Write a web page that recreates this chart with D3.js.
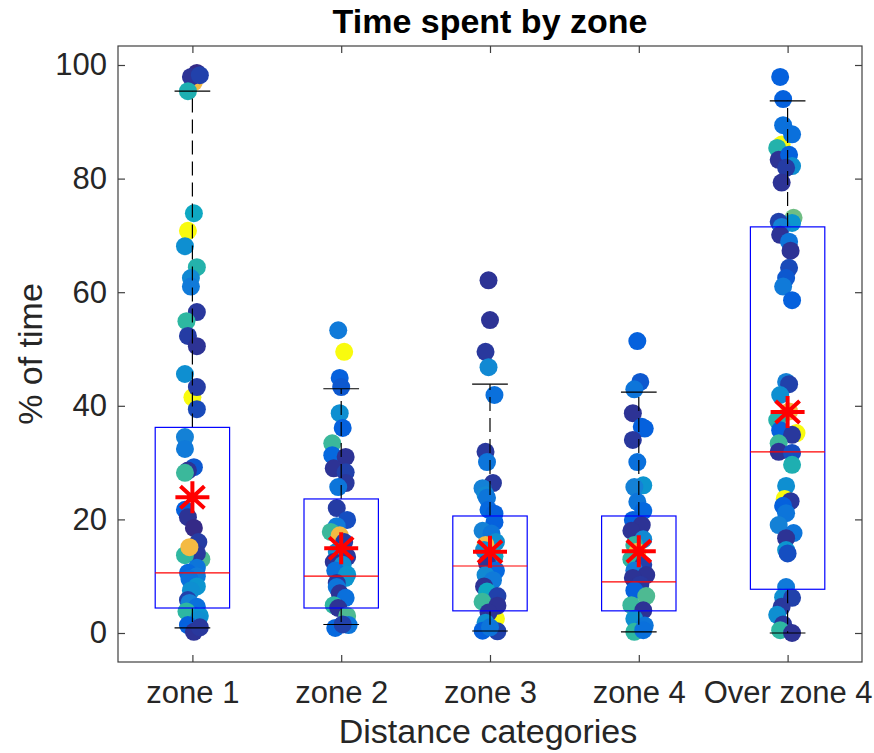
<!DOCTYPE html>
<html>
<head>
<meta charset="utf-8">
<script src="https://cdn.jsdelivr.net/npm/d3@7"></script>
<style>
body { margin: 0; background: #fff; }
text { font-family: "Liberation Sans", Arial, sans-serif; }
</style>
</head>
<body>
<div id="chart"></div>
<script>
// categories and summary stats
var categories = ["zone 1", "zone 2", "zone 3", "zone 4", "Over zone 4"];
var q1 = [4.4, 4.4, 3.9, 3.9, 7.7];
var medians = [10.6, 10.0, 11.8, 9.0, 31.9];
var q3 = [36.2, 23.6, 20.6, 20.6, 71.5];
var whiskLo = [0.9, 1.5, 0.35, 0.2, 0.0];
var whiskHi = [95.4, 43.0, 43.8, 42.4, 93.7];
var means = [23.9, 14.9, 14.3, 14.4, 38.9];
var yTicks = [0, 20, 40, 60, 80, 100];

// individual subjects: [value, x jitter (category units), colour value 0..1]
var zone1 = [[98.6, 0.03, 0.0], [97.0, 0.01, 0.85], [97.9, -0.01, 0.02], [98.2, 0.05, 0.05], [95.4, -0.03, 0.45],
  [73.9, 0.01, 0.4], [70.8, -0.03, 1.0], [68.1, -0.05, 0.3], [64.4, 0.03, 0.47], [62.5, -0.01, 0.28],
  [61.0, -0.01, 0.22], [56.5, 0.03, 0.03], [54.9, -0.04, 0.5], [52.3, -0.03, 0.04], [50.5, 0.03, 0.02],
  [45.6, -0.05, 0.3], [41.5, 0.0, 1.0], [43.3, 0.03, 0.04], [39.4, 0.03, 0.07], [34.5, -0.05, 0.25],
  [32.4, -0.05, 0.22], [29.2, 0.01, 0.1], [28.6, -0.03, 0.02], [28.2, -0.05, 0.52], [21.7, -0.05, 0.12],
  [20.4, -0.03, 0.02], [18.5, 0.01, 0.0], [16.0, 0.04, 0.04], [13.0, 0.06, 0.55], [14.0, 0.03, 0.03],
  [13.7, -0.05, 0.5], [15.1, -0.02, 0.85], [11.5, 0.03, 0.2], [10.6, -0.03, 0.15], [10.0, 0.03, 0.22],
  [9.5, -0.02, 0.18], [8.2, 0.03, 0.32], [7.5, -0.01, 0.3], [5.8, -0.03, 0.05], [5.3, -0.02, 0.25],
  [4.6, 0.03, 0.18], [3.8, -0.04, 0.5], [3.0, 0.05, 0.32], [2.3, 0.04, 0.3], [0.8, 0.01, 0.95],
  [1.4, -0.03, 0.12], [0.2, 0.01, 0.02], [1.0, 0.05, 0.03]];
var zone2 = [[53.3, -0.02, 0.22], [49.5, 0.02, 1.0], [44.9, -0.01, 0.12], [43.3, 0.0, 0.1], [38.7, -0.01, 0.3],
  [36.1, 0.01, 0.12], [33.4, -0.06, 0.52], [31.3, -0.06, 0.15], [31.0, 0.03, 0.02], [29.0, -0.05, 0.02],
  [28.3, 0.03, 0.05], [26.4, 0.03, 0.03], [25.7, -0.02, 0.2], [22.0, -0.03, 0.04], [19.9, 0.04, 0.08],
  [18.8, -0.03, 0.22], [17.8, -0.07, 0.52], [17.2, -0.01, 0.85], [16.0, 0.02, 0.04], [14.3, -0.03, 0.3],
  [13.4, 0.04, 0.03], [12.5, -0.05, 0.02], [12.0, 0.01, 0.3], [11.0, -0.04, 0.18], [10.3, 0.04, 0.32],
  [9.7, 0.03, 0.32], [8.8, -0.03, 0.03], [8.1, -0.03, 0.2], [7.0, -0.01, 0.02], [6.2, 0.03, 0.18],
  [4.9, -0.05, 0.5], [4.4, -0.02, 0.02], [3.0, 0.04, 0.55], [1.4, 0.05, 0.2], [0.9, -0.04, 0.15],
  [1.5, 0.01, 0.05]];
var zone3 = [[62.1, -0.01, 0.02], [55.1, 0.0, 0.02], [49.5, -0.03, 0.03], [46.8, -0.01, 0.28], [41.9, 0.03, 0.18],
  [31.9, -0.03, 0.03], [30.1, -0.02, 0.2], [26.4, 0.02, 0.03], [25.5, -0.05, 0.25], [24.3, -0.03, 0.28],
  [23.8, -0.02, 0.2], [21.7, -0.01, 0.15], [21.0, 0.03, 0.12], [19.5, 0.03, 0.12], [18.0, -0.05, 0.25],
  [17.5, 0.01, 0.2], [16.0, 0.04, 0.3], [15.5, -0.03, 0.85], [14.6, -0.04, 0.3], [13.5, 0.03, 0.4],
  [12.3, -0.02, 0.02], [11.0, 0.04, 0.15], [10.2, -0.03, 0.28], [9.3, 0.02, 0.22], [8.2, -0.04, 0.02],
  [7.3, -0.02, 0.4], [6.5, 0.05, 0.05], [5.5, -0.05, 0.52], [2.5, 0.04, 1.0], [4.8, 0.05, 0.02],
  [3.6, -0.01, 0.02], [1.8, -0.03, 0.3], [0.4, -0.05, 0.12], [0.3, 0.05, 0.05], [1.0, 0.0, 0.2]];
var zone4 = [[51.4, -0.01, 0.12], [44.2, 0.01, 0.1], [42.9, -0.03, 0.2], [38.7, -0.04, 0.02], [36.3, 0.02, 0.12],
  [36.0, 0.04, 0.12], [34.0, -0.04, 0.03], [30.1, -0.01, 0.18], [26.0, 0.03, 0.32], [25.7, -0.03, 0.25],
  [23.1, -0.01, 0.2], [21.5, 0.03, 0.15], [19.9, -0.04, 0.12], [19.0, 0.02, 0.02], [18.0, -0.05, 0.02],
  [16.5, 0.03, 0.28], [15.5, -0.03, 0.5], [14.3, -0.01, 0.85], [13.0, -0.05, 0.5], [12.0, 0.03, 0.05],
  [11.0, -0.03, 0.22], [10.2, 0.05, 0.02], [9.7, -0.04, 0.02], [8.5, 0.01, 0.03], [7.5, -0.03, 0.12],
  [6.5, 0.05, 0.55], [4.9, -0.05, 0.52], [4.0, 0.03, 0.02], [2.5, -0.03, 0.3], [1.3, 0.04, 0.2],
  [0.2, -0.03, 0.5], [0.5, 0.03, 0.18]];
var zone5 = [[97.9, -0.05, 0.12], [94.0, -0.03, 0.12], [86.0, -0.04, 1.0], [89.4, -0.03, 0.18], [87.8, 0.03, 0.18],
  [85.4, -0.07, 0.47], [83.3, -0.06, 0.02], [84.2, 0.01, 0.12], [82.2, 0.03, 0.3], [81.9, -0.01, 0.04],
  [79.3, -0.04, 0.02], [73.1, 0.04, 0.6], [72.2, 0.03, 0.32], [72.4, -0.06, 0.05], [71.5, -0.04, 0.25],
  [70.1, -0.05, 0.02], [68.9, 0.01, 0.2], [67.3, 0.02, 0.02], [64.3, 0.01, 0.07], [62.5, -0.01, 0.1],
  [61.0, -0.03, 0.22], [58.6, 0.03, 0.12], [44.2, -0.01, 0.25], [43.8, 0.01, 0.05], [41.9, -0.05, 0.3],
  [35.2, 0.06, 1.0], [39.0, 0.01, 0.85], [37.5, -0.07, 0.47], [35.7, -0.05, 0.12], [34.9, 0.03, 0.03],
  [33.4, -0.06, 0.52], [31.9, -0.06, 0.02], [31.7, 0.03, 0.08], [29.6, 0.03, 0.45], [25.9, -0.01, 0.3],
  [23.6, -0.02, 1.0], [23.2, 0.02, 0.03], [22.4, -0.03, 0.12], [21.1, -0.01, 0.2], [19.0, -0.06, 0.25],
  [17.6, 0.04, 0.2], [16.7, -0.01, 0.02], [14.6, -0.01, 0.32], [14.0, 0.0, 0.08], [8.1, -0.01, 0.22],
  [6.3, -0.03, 0.3], [6.2, 0.03, 0.05], [4.6, -0.04, 0.03], [3.2, -0.07, 0.3], [1.5, -0.03, 0.03],
  [0.5, -0.05, 0.5], [0.0, 0.03, 0.02]];
var zones = [zone1, zone2, zone3, zone4, zone5];

var width = 874, height = 753;

// parula-ish colormap
var parula = d3.scaleLinear()
  .domain([0, 0.125, 0.25, 0.375, 0.5, 0.625, 0.75, 0.875, 1])
  .range(["#352a87", "#0363e1", "#1481d6", "#06a4ca", "#2eb7a1", "#7fbf7b", "#d1bb59", "#fdba3e", "#f9fb0e"])
  .clamp(true);

var x = d3.scaleLinear().domain([0.5, 5.5]).range([118, 862]);
var y = d3.scaleLinear().domain([0, 100]).range([633, 65]);
// note: "top" is taken by window.top, so use other names
var plotTop = 46, plotBottom = 662, plotLeft = 118, plotRight = 862;

var svg = d3.select("#chart").append("svg")
  .attr("width", width).attr("height", height);

// subjects
zones.forEach(function(pts, i) {
  svg.append("g").attr("class", "pts").selectAll("circle").data(pts).enter()
    .append("circle")
    .attr("cx", function(d) { return x(i + 1 + d[1]); })
    .attr("cy", function(d) { return y(d[0]); })
    .attr("r", 9)
    .attr("fill", function(d) { return parula(d[2]); });
});

// boxplots on top of the points
var bw = 0.25, cw = 0.12;
var box = svg.append("g").attr("class", "boxes");
categories.forEach(function(c, i) {
  var cx = i + 1;
  // whiskers
  box.append("line").attr("x1", x(cx)).attr("x2", x(cx))
    .attr("y1", y(q3[i])).attr("y2", y(whiskHi[i]))
    .attr("stroke", "#000").attr("stroke-width", 1.2).attr("stroke-dasharray", "14,7");
  box.append("line").attr("x1", x(cx)).attr("x2", x(cx))
    .attr("y1", y(q1[i])).attr("y2", y(whiskLo[i]))
    .attr("stroke", "#000").attr("stroke-width", 1.2).attr("stroke-dasharray", "14,7");
  // caps
  [whiskHi[i], whiskLo[i]].forEach(function(v) {
    box.append("line").attr("x1", x(cx - cw)).attr("x2", x(cx + cw))
      .attr("y1", y(v)).attr("y2", y(v))
      .attr("stroke", "#000").attr("stroke-width", 1.2);
  });
  box.append("rect")
    .attr("x", x(cx - bw)).attr("width", x(cx + bw) - x(cx - bw))
    .attr("y", y(q3[i])).attr("height", y(q1[i]) - y(q3[i]))
    .attr("fill", "none").attr("stroke", "#0000ff").attr("stroke-width", 1.2);
  box.append("line").attr("x1", x(cx - bw)).attr("x2", x(cx + bw))
    .attr("y1", y(medians[i])).attr("y2", y(medians[i]))
    .attr("stroke", "#ff0000").attr("stroke-width", 1.2);
});

// mean markers (asterisk)
var star = "M-17,0L17,0M0,-16L0,16M-12,-11L12,11M-12,11L12,-11";
svg.append("g").selectAll("path").data(means).enter().append("path")
  .attr("d", star)
  .attr("transform", function(d, i) { return "translate(" + x(i + 1) + "," + y(d) + ")"; })
  .attr("fill", "none").attr("stroke", "#ff0000").attr("stroke-width", 4);

// axes, ticks inward (box on)
var axisCol = "#404040";
var yl = svg.append("g").attr("transform", "translate(" + plotLeft + ",0)")
  .call(d3.axisLeft(y).tickValues(yTicks).tickSize(-7).tickPadding(11));
var yr = svg.append("g").attr("transform", "translate(" + plotRight + ",0)")
  .call(d3.axisRight(y).tickValues(yTicks).tickSize(-7).tickFormat(""));
var xb = svg.append("g").attr("transform", "translate(0," + plotBottom + ")")
  .call(d3.axisBottom(x).tickValues([1, 2, 3, 4, 5]).tickSize(-7).tickPadding(19)
    .tickFormat(function(d) { return categories[d - 1]; }));
var xt = svg.append("g").attr("transform", "translate(0," + plotTop + ")")
  .call(d3.axisTop(x).tickValues([1, 2, 3, 4, 5]).tickSize(-7).tickFormat(""));

[yl, yr, xb, xt].forEach(function(g) {
  g.select(".domain").remove();
  g.selectAll(".tick line").attr("stroke", axisCol).attr("stroke-width", 1.2);
  g.selectAll(".tick text").attr("fill", "#262626")
    .style("font-family", "'Liberation Sans', Arial, sans-serif").style("font-size", "31px");
});

svg.append("rect").attr("x", plotLeft).attr("y", plotTop)
  .attr("width", plotRight - plotLeft).attr("height", plotBottom - plotTop)
  .attr("fill", "none").attr("stroke", axisCol).attr("stroke-width", 1.2);

// labels
svg.append("text").attr("x", 490).attr("y", 33).attr("text-anchor", "middle")
  .style("font-size", "34px").style("font-weight", "bold").attr("fill", "#000")
  .text("Time spent by zone");
svg.append("text").attr("x", 488).attr("y", 743).attr("text-anchor", "middle")
  .style("font-size", "34px").attr("fill", "#262626")
  .text("Distance categories");
svg.append("text").attr("transform", "translate(42," + ((plotTop + plotBottom) / 2) + ") rotate(-90)")
  .attr("text-anchor", "middle")
  .style("font-size", "34px").attr("fill", "#262626")
  .text("% of time");
</script>
</body>
</html>
